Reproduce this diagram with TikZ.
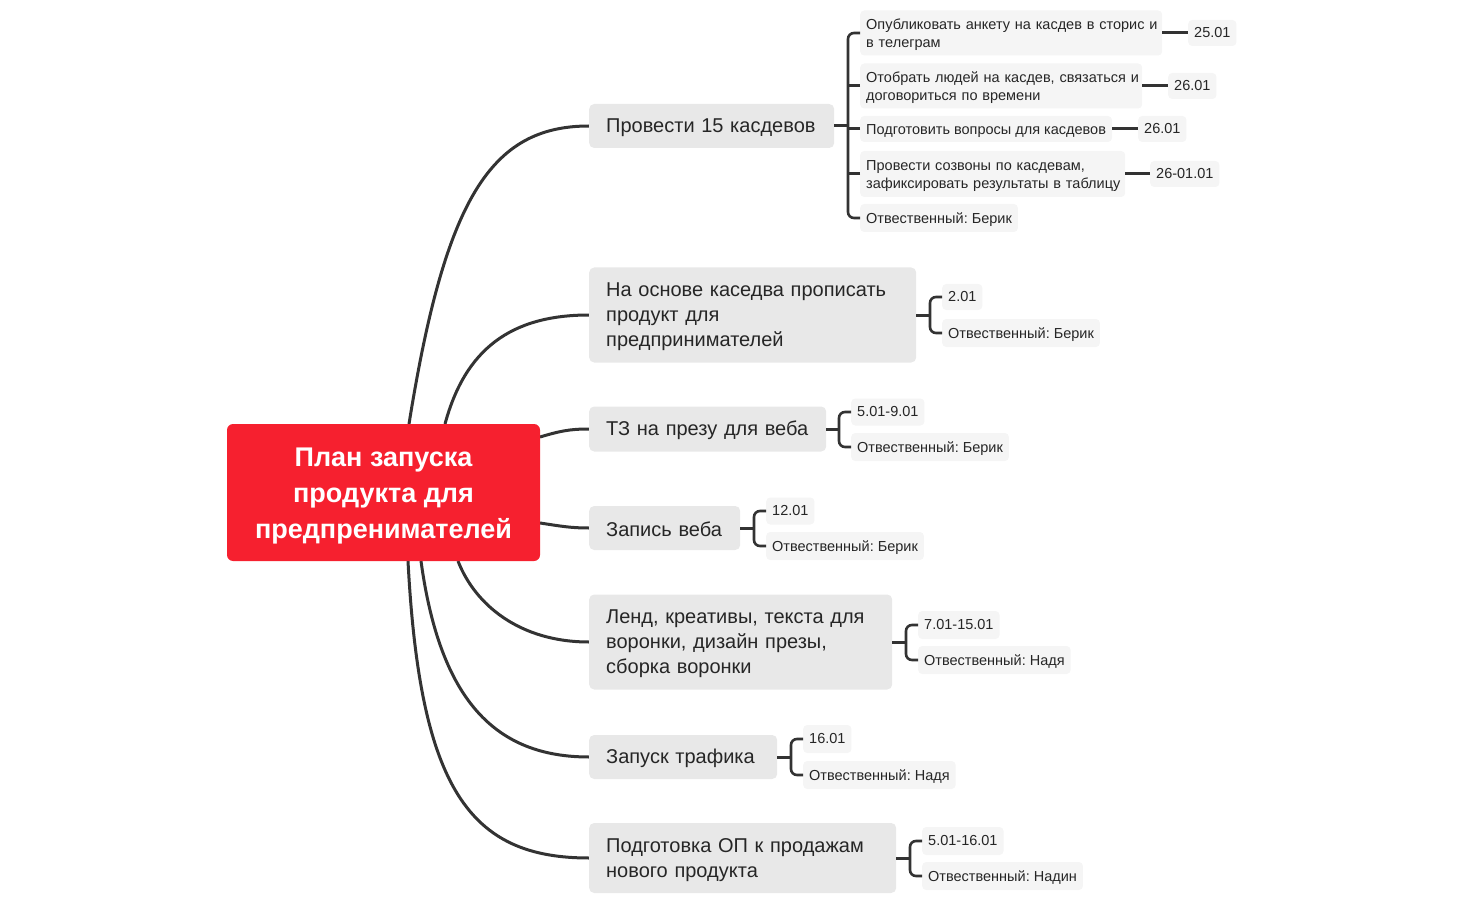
\documentclass[tikz,border=0pt]{standalone}
\usepackage{fontspec}
\setmainfont{Liberation Sans}
\frenchspacing
\usetikzlibrary{backgrounds}
\definecolor{rootred}{RGB}{246,32,47}
\definecolor{lone}{RGB}{232,232,232}
\definecolor{ltwo}{RGB}{245,245,245}
\definecolor{ink}{RGB}{51,51,51}
\definecolor{txt}{RGB}{38,38,38}
\begin{document}
\begin{tikzpicture}[x=1pt,y=-1pt,
 conn/.style={draw=ink,line width=3pt},
 brk/.style={draw=ink,line width=2.6pt,rounded corners=6pt},
 lvone/.style={fill=lone,rounded corners=5pt,anchor=west,align=left,inner xsep=17pt,inner ysep=0pt,text=txt,font=\fontsize{20}{25}\selectfont,execute at begin node={\rule{0pt}{18pt}}},
 lvtwo/.style={fill=ltwo,rounded corners=4pt,anchor=west,align=left,inner xsep=6pt,inner ysep=0pt,text=txt,font=\fontsize{14.5}{18}\selectfont,execute at begin node={\rule{0pt}{14pt}}},
 datebox/.style={fill=ltwo,rounded corners=4pt,anchor=west,inner xsep=6pt,inner ysep=0pt,text=txt,font=\fontsize{14.5}{18}\selectfont},
]
\useasboundingbox (0,0) rectangle (1460,904);

% root
\node[fill=rootred,rounded corners=6pt,minimum width=313pt,minimum height=137pt,inner sep=0pt,text=white,align=center,font=\bfseries\fontsize{27}{36}\selectfont] (root) at (383.5,492.5) {\rule{0pt}{26pt}План запуска\\продукта для\\предпренимателей};

% level 1
\node[lvone,text width=211pt,minimum height=44pt] (n1) at (589,126) {Провести 15 касдевов};
\node[lvone,text width=293pt,minimum height=95pt] (n2) at (589,315) {На основе каседва прописать\\продукт для\\предпринимателей};
\node[lvone,text width=203pt,minimum height=45pt] (n3) at (589,429) {ТЗ на презу для веба};
\node[lvone,text width=117pt,minimum height=44pt] (n4) at (589,528) {Запись веба};
\node[lvone,text width=269pt,minimum height=95pt] (n5) at (589,642) {Ленд, креативы, текста для\\воронки, дизайн презы,\\сборка воронки};
\node[lvone,text width=154pt,minimum height=44pt] (n6) at (589,757) {Запуск трафика};
\node[lvone,text width=273pt,minimum height=70pt] (n7) at (589,858) {Подготовка ОП к продажам\\нового продукта};

% group 1
\node[lvtwo,text width=290pt,minimum height=45pt] (g1a) at (860,33) {\mbox{Опубликовать анкету на касдев в сторис и}\\в телеграм};
\node[lvtwo,text width=270pt,minimum height=45pt] (g1b) at (860,86) {\mbox{Отобрать людей на касдев, связаться и}\\договориться по времени};
\node[lvtwo,minimum height=26pt] (g1c) at (860,129) {Подготовить вопросы для касдевов};
\node[lvtwo,text width=253pt,minimum height=46pt] (g1d) at (860,174) {Провести созвоны по касдевам,\\\mbox{зафиксировать результаты в таблицу}};
\node[lvtwo,minimum height=28pt] (g1e) at (860,218) {Отвественный: Берик};
\node[datebox,minimum height=26pt] (d1a) at (1188,33) {25.01};
\node[datebox,minimum height=26pt] (d1b) at (1168,86) {26.01};
\node[datebox,minimum height=26pt] (d1c) at (1138,129) {26.01};
\node[datebox,minimum height=26pt] (d1d) at (1150,174) {26-01.01};

% group 2
\node[datebox,minimum height=26pt] (g2a) at (942,297) {2.01};
\node[lvtwo,minimum height=28pt] (g2b) at (942,333) {Отвественный: Берик};
% group 3
\node[datebox,minimum height=27pt] (g3a) at (851,412) {5.01-9.01};
\node[lvtwo,minimum height=28pt] (g3b) at (851,447) {Отвественный: Берик};
% group 4
\node[datebox,minimum height=27pt] (g4a) at (766,511) {12.01};
\node[lvtwo,minimum height=28pt] (g4b) at (766,546) {Отвественный: Берик};
% group 5
\node[datebox,minimum height=28pt] (g5a) at (918,625) {7.01-15.01};
\node[lvtwo,minimum height=28pt] (g5b) at (918,660) {Отвественный: Надя};
% group 6
\node[datebox,minimum height=28pt] (g6a) at (803,739) {16.01};
\node[lvtwo,minimum height=28pt] (g6b) at (803,775) {Отвественный: Надя};
% group 7
\node[datebox,minimum height=28pt] (g7a) at (922,841) {5.01-16.01};
\node[lvtwo,minimum height=28pt] (g7b) at (922,876) {Отвественный: Надин};

% start points on the root border
\coordinate (s1) at (409,424);
\coordinate (s2) at (445,424);
\coordinate (s3) at (540,437);
\coordinate (s4) at (540,523);
\coordinate (s5) at (458,561);
\coordinate (s6) at (421,561);
\coordinate (s7) at (408,561);

\begin{scope}[on background layer]
\draw[conn] (s1) .. controls (445,200) and (490,126) .. (n1.west);
\draw[conn] (s2) .. controls (465,350) and (510,315) .. (n2.west);
\draw[conn] (s3) .. controls (560,431) and (570,429) .. (n3.west);
\draw[conn] (s4) .. controls (560,526) and (570,528) .. (n4.west);
\draw[conn] (s5) .. controls (475,605) and (520,642) .. (n5.west);
\draw[conn] (s6) .. controls (440,700) and (495,757) .. (n6.west);
\draw[conn] (s7) .. controls (420,790) and (470,858) .. (n7.west);
\end{scope}

% group brackets
\draw[conn,shorten >=12pt] (n1.east) -- (n1.east -| g1a.west);
\draw[brk] (g1a.west) -- ++(-12,0) |- (g1e.west);
\draw[conn] (g1b.west) -- ++(-12,0);
\draw[conn] (g1c.west) -- ++(-12,0);
\draw[conn] (g1d.west) -- ++(-12,0);
\draw[conn] (g1a.east) -- (d1a.west);
\draw[conn] (g1b.east) -- (d1b.west);
\draw[conn] (g1c.east) -- (d1c.west);
\draw[conn] (g1d.east) -- (d1d.west);

\draw[conn,shorten >=12pt] (n2.east) -- (n2.east -| g2a.west);
\draw[brk] (g2a.west) -- ++(-12,0) |- (g2b.west);
\draw[conn,shorten >=12pt] (n3.east) -- (n3.east -| g3a.west);
\draw[brk] (g3a.west) -- ++(-12,0) |- (g3b.west);
\draw[conn,shorten >=12pt] (n4.east) -- (n4.east -| g4a.west);
\draw[brk] (g4a.west) -- ++(-12,0) |- (g4b.west);
\draw[conn,shorten >=12pt] (n5.east) -- (n5.east -| g5a.west);
\draw[brk] (g5a.west) -- ++(-12,0) |- (g5b.west);
\draw[conn,shorten >=12pt] (n6.east) -- (n6.east -| g6a.west);
\draw[brk] (g6a.west) -- ++(-12,0) |- (g6b.west);
\draw[conn,shorten >=12pt] (n7.east) -- (n7.east -| g7a.west);
\draw[brk] (g7a.west) -- ++(-12,0) |- (g7b.west);
\end{tikzpicture}
\end{document}
